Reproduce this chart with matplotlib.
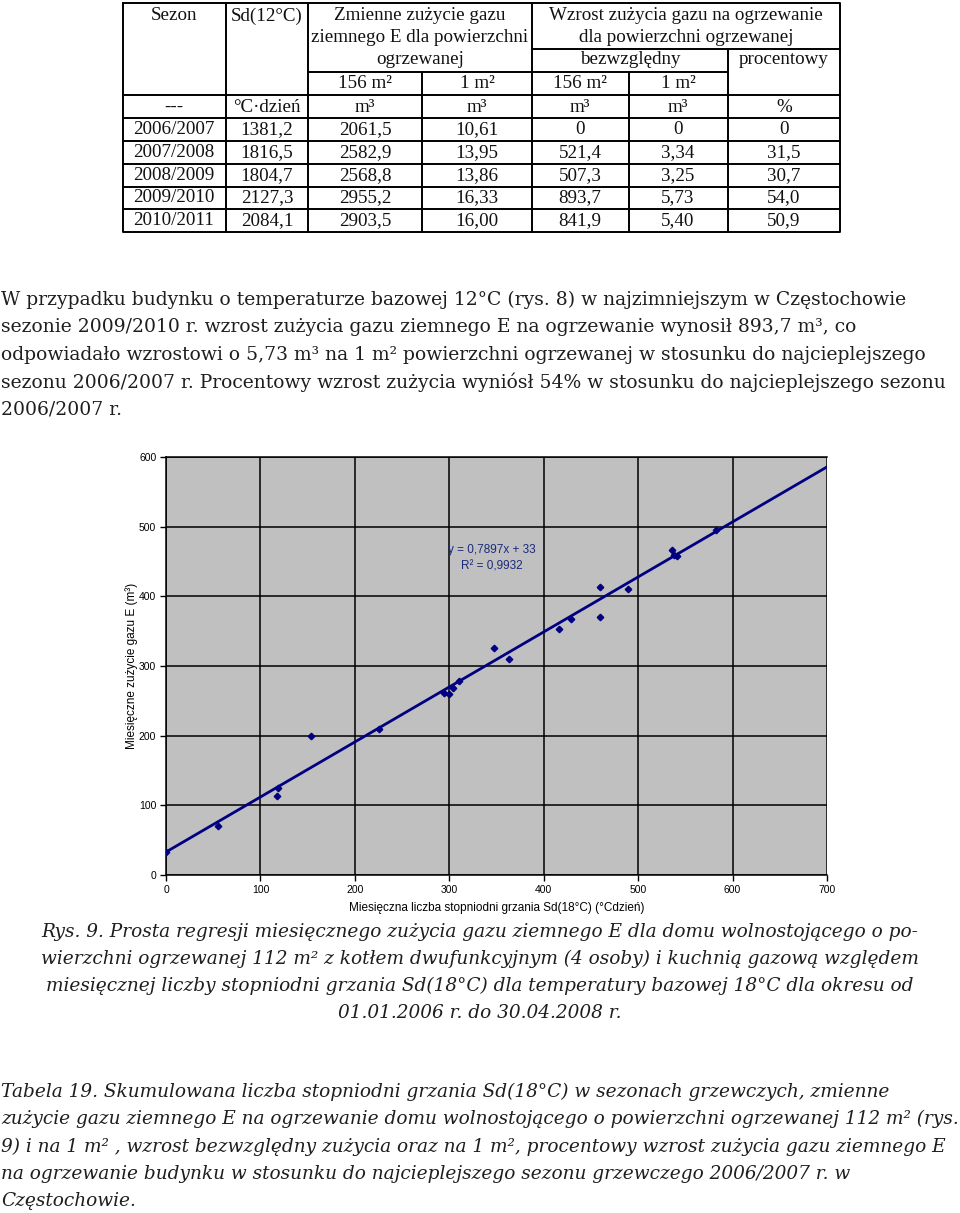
import matplotlib.pyplot as plt
import numpy as np

# table (Sd 12 C) values
seasons = ["2006/2007", "2007/2008", "2008/2009", "2009/2010", "2010/2011"]
sd12 = ["1381,2", "1816,5", "1804,7", "2127,3", "2084,1"]
gas_156 = ["2061,5", "2582,9", "2568,8", "2955,2", "2903,5"]
gas_1 = ["10,61", "13,95", "13,86", "16,33", "16,00"]
inc_156 = ["0", "521,4", "507,3", "893,7", "841,9"]
inc_1 = ["0", "3,34", "3,25", "5,73", "5,40"]
inc_pct = ["0", "31,5", "30,7", "54,0", "50,9"]
units = ["---", "°C·dzień", "m³", "m³", "m³", "m³", "%"]

# monthly degree-days vs gas use (scatter)
sd18 = [0, 55, 118, 119, 154, 226, 294, 300, 304, 310, 347, 363,
        416, 429, 460, 460, 489, 536, 538, 541, 582]
gas = [33, 70, 114, 125, 200, 210, 261, 260, 268, 279, 326, 310,
       353, 367, 414, 371, 410, 467, 459, 458, 495]
slope, intercept, r2 = 0.7897, 33, "0,9932"

paragraph = [
    "W przypadku budynku o temperaturze bazowej 12°C (rys. 8) w najzimniejszym w Częstochowie",
    "sezonie 2009/2010 r. wzrost zużycia gazu ziemnego E na ogrzewanie wynosił 893,7 m³, co",
    "odpowiadało wzrostowi o 5,73 m³ na 1 m² powierzchni ogrzewanej w stosunku do najcieplejszego",
    "sezonu 2006/2007 r. Procentowy wzrost zużycia wyniósł 54% w stosunku do najcieplejszego sezonu",
    "2006/2007 r.",
]
caption = [
    "Rys. 9. Prosta regresji miesięcznego zużycia gazu ziemnego E dla domu wolnostojącego o po-",
    "wierzchni ogrzewanej 112 m² z kotłem dwufunkcyjnym (4 osoby) i kuchnią gazową względem",
    "miesięcznej liczby stopniodni grzania Sd(18°C) dla temperatury bazowej 18°C dla okresu od",
    "01.01.2006 r. do 30.04.2008 r.",
]
table_caption = [
    "Tabela 19. Skumulowana liczba stopniodni grzania Sd(18°C) w sezonach grzewczych, zmienne",
    "zużycie gazu ziemnego E na ogrzewanie domu wolnostojącego o powierzchni ogrzewanej 112 m² (rys.",
    "9) i na 1 m² , wzrost bezwzględny zużycia oraz na 1 m², procentowy wzrost zużycia gazu ziemnego E",
    "na ogrzewanie budynku w stosunku do najcieplejszego sezonu grzewczego 2006/2007 r. w",
    "Częstochowie.",
]

W, H = 960, 1213
fig = plt.figure(figsize=(W / 100, H / 100), dpi=100)
fig.patch.set_facecolor("white")

page = fig.add_axes([0, 0, 1, 1])
page.set_xlim(0, W)
page.set_ylim(H, 0)
page.axis("off")

# ---- table at the top ----
serif_tab = dict(fontfamily="Liberation Serif", fontsize=13.7, color="#111111",
                 ha="center", va="center")
lw = 1.4
page.plot([123, 840, 840, 123, 123], [3, 3, 232, 232, 3], color="k", lw=lw)
for y in [95, 118, 141, 164, 187, 209]:
    page.plot([123, 840], [y, y], color="k", lw=lw)
page.plot([532, 840], [49, 49], color="k", lw=lw)
page.plot([308, 728], [72, 72], color="k", lw=lw)
for x in [226, 308, 532]:
    page.plot([x, x], [3, 232], color="k", lw=lw)
for x in [422, 629]:
    page.plot([x, x], [72, 232], color="k", lw=lw)
page.plot([728, 728], [49, 232], color="k", lw=lw)

col_c = [174, 267, 365, 477, 580, 678, 784]
page.text(174, 16, "Sezon", **serif_tab)
page.text(267, 16, "Sd(12°C)", **serif_tab)
page.text(420, 16, "Zmienne zużycie gazu", **serif_tab)
page.text(420, 37, "ziemnego E dla powierzchni", **serif_tab)
page.text(420, 60, "ogrzewanej", **serif_tab)
page.text(686, 16, "Wzrost zużycia gazu na ogrzewanie", **serif_tab)
page.text(686, 37, "dla powierzchni ogrzewanej", **serif_tab)
page.text(630, 60, "bezwzględny", **serif_tab)
page.text(784, 60, "procentowy", **serif_tab)
for c, s in zip(col_c[2:6], ["156 m²", "1 m²", "156 m²", "1 m²"]):
    page.text(c, 84, s, **serif_tab)
for c, s in zip(col_c, units):
    page.text(c, 107, s, **serif_tab)
rows = list(zip(seasons, sd12, gas_156, gas_1, inc_156, inc_1, inc_pct))
for i, row in enumerate(rows):
    y = 130 + i * 22.6
    for c, s in zip(col_c, row):
        page.text(c, y, s, **serif_tab)

# ---- paragraph ----
body = dict(fontfamily="DejaVu Serif", color="#1e1e1e", va="center")
for i, line in enumerate(paragraph):
    page.text(1, 300 + i * 27.5, line, ha="left", fontsize=13.48, **body)

# ---- captions ----
for i, line in enumerate(caption):
    page.text(480, 932 + i * 27, line, ha="center", style="italic", fontsize=13.32, **body)
for i, line in enumerate(table_caption):
    page.text(1, 1092 + i * 27.2, line, ha="left", style="italic", fontsize=13.33, **body)

# ---- regression chart ----
sans = ["Liberation Sans Narrow", "Liberation Sans"]
ax = fig.add_axes([166 / W, (H - 875) / H, 661 / W, 418 / H])
ax.set_zorder(2)
ax.set_facecolor("#c0c0c0")
xs = np.array([0, 700])
ax.plot(xs, slope * xs + intercept, color="#000080", lw=2, zorder=3)
ax.plot(sd18, gas, "D", color="#000080", markersize=3.3, zorder=4)
ax.set_xlim(0, 700)
ax.set_ylim(0, 600)
ax.set_xticks(range(0, 701, 100))
ax.set_yticks(range(0, 601, 100))
ax.grid(True, color="black", lw=1.1)
ax.set_axisbelow(True)
ax.spines["right"].set_visible(False)
for s in ["left", "bottom", "top"]:
    ax.spines[s].set_color("black")
    ax.spines[s].set_linewidth(1.1)
ax.tick_params(direction="out", length=4, width=1, labelsize=7.5, pad=3)
for lab in ax.get_xticklabels() + ax.get_yticklabels():
    lab.set_fontfamily(sans)
ax.set_xlabel("Miesięczna liczba stopniodni grzania Sd(18°C) (°Cdzień)",
              fontfamily=sans, fontsize=8.5, labelpad=5)
ax.set_ylabel("Miesięczne zużycie gazu E (m³)", fontfamily=sans, fontsize=8.5, labelpad=1)
ax.text(345, 466, "y = 0,7897x + 33", ha="center", va="center",
        fontfamily=sans, fontsize=8.5, color="#1c2a7a")
ax.text(345, 443, "R² = " + r2, ha="center", va="center",
        fontfamily=sans, fontsize=8.5, color="#1c2a7a")

fig.savefig("out.png", dpi=100)
